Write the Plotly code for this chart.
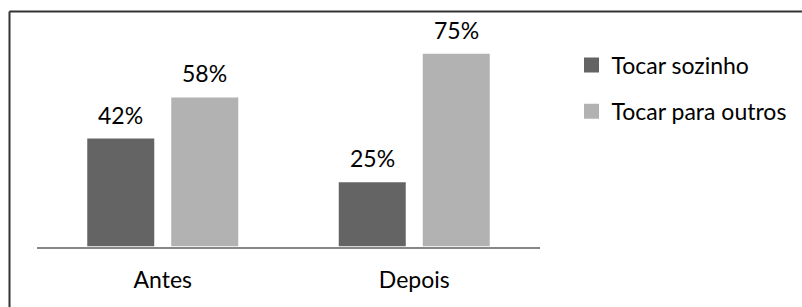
import plotly.graph_objects as go

categories = ["Antes", "Depois"]
series_names = ["Tocar sozinho", "Tocar para outros"]
tocar_sozinho = [42, 25]
tocar_para_outros = [58, 75]
series_values = [tocar_sozinho, tocar_para_outros]
colors = ["#646464", "#b2b2b2"]

W, H = 802, 307
FONT = "Lato"
FS = 23

fig = go.Figure()
for name, vals, col in zip(series_names, series_values, colors):
    fig.add_trace(go.Bar(x=categories, y=vals, name=name, marker_color=col,
                         marker_line_width=0, showlegend=False))
# legend entries (square markers)
for i, (name, col) in enumerate(zip(series_names, colors)):
    fig.add_trace(go.Scatter(x=[None], y=[None], mode="markers", name=name,
                             marker=dict(symbol="square", size=15, color=col),
                             legendgroup=f"g{i}", showlegend=True))

slot_px = 84
annotations = []
for i, vals in enumerate(series_values):
    for c, v in zip(categories, vals):
        annotations.append(dict(x=c, y=v, xref="x", yref="y", text=f"{v}%",
                                showarrow=False, yanchor="bottom",
                                xshift=(i - 0.5) * slot_px, yshift=8,
                                font=dict(family=FONT, size=FS, color="#000")))

fig.update_layout(
    width=W, height=H,
    margin=dict(l=0, r=0, t=0, b=0),
    paper_bgcolor="white", plot_bgcolor="white",
    barmode="group", bargap=0.332, bargroupgap=0.2024,
    font=dict(family=FONT, size=FS, color="#000"),
    xaxis=dict(domain=[37 / W, 540 / W], showline=True, linecolor="#878787",
               linewidth=2, ticks="outside", ticklen=12,
               tickcolor="rgba(0,0,0,0)", showgrid=False,
               tickfont=dict(family=FONT, size=FS, color="#000")),
    yaxis=dict(domain=[60.5 / H, 266.1 / H], range=[0, 80], visible=False),
    legend=dict(x=571.5 / W, y=1 - 43.5 / H, xanchor="left", yanchor="top",
                font=dict(family=FONT, size=FS, color="#000"),
                traceorder="grouped", tracegroupgap=13.5,
                bgcolor="rgba(0,0,0,0)"),
    annotations=annotations,
    shapes=[
        dict(type="line", xref="paper", yref="paper", x0=9.5 / W, x1=1,
             y0=1 - 11.5 / H, y1=1 - 11.5 / H, line=dict(color="#333", width=2)),
        dict(type="line", xref="paper", yref="paper", x0=9.5 / W, x1=9.5 / W,
             y0=0, y1=1 - 11.5 / H, line=dict(color="#333", width=2)),
    ],
)

fig.write_html("out.html", config={"displayModeBar": False},
               post_script="document.body.style.margin='0';")
